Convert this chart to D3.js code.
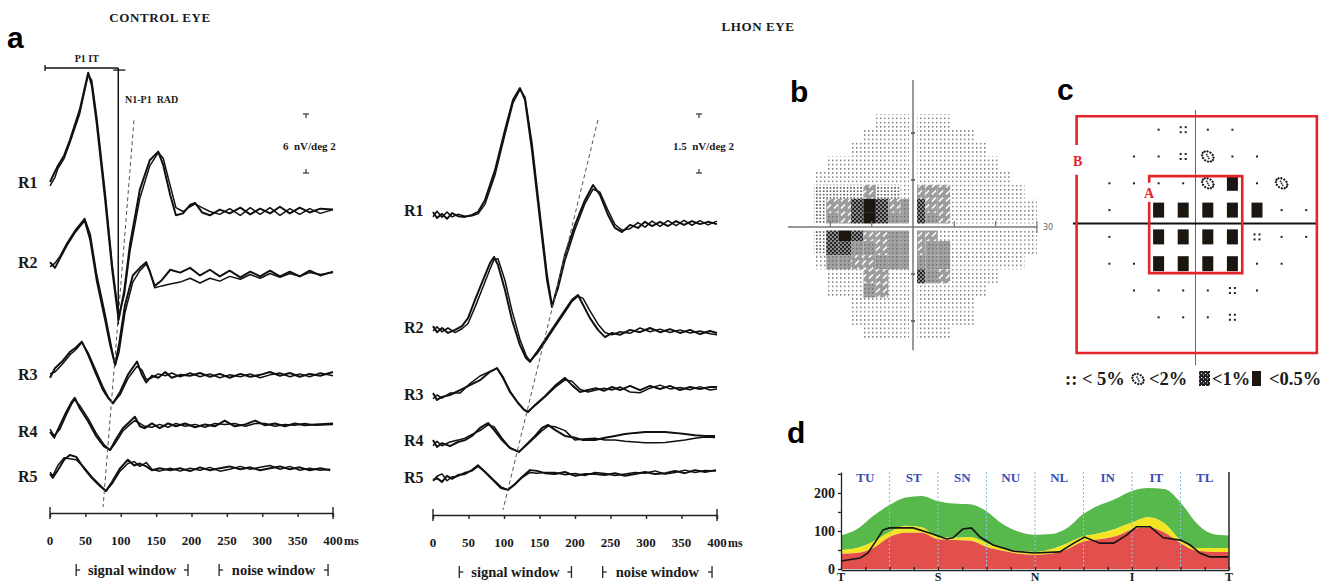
<!DOCTYPE html>
<html>
<head>
<meta charset="utf-8">
<script src="https://cdn.jsdelivr.net/npm/d3@7"></script>
<style>
  body { margin: 0; background: #fff; }
  svg text { font-family: "Liberation Serif", "Times New Roman", serif; font-weight: bold; fill: #1a1a1a; }
  svg text.letter { font-family: "Liberation Sans", Arial, sans-serif; font-size: 30px; fill: #000; }
</style>
</head>
<body>
<script>
// ---------- data ----------
var rowNames = ["R1", "R2", "R3", "R4", "R5"];
var msTicks = [0, 50, 100, 150, 200, 250, 300, 350, 400];
var windows = [["signal window", 37, 195], ["noise window", 239, 393]];

// traces: [ms, run 1, run 2], nV/deg2 relative to the row baseline
var ctrlR1 = [[0,0.1,-0.3],[7,1.2,0.6],[11,1.8,1.5],[20,2.9,2.6],[28,4.5,4.2],[42,7.7,7.3],[54,11.6,11.4],[59,10.3,10.8],[66,6.3,7.0],[78,-1.8,-1.0],[88,-9.2,-8.6],[97,-14.4,-14.0],[105,-11.3,-11.8],[113,-6.5,-7.2],[127,-0.7,-1.6],[141,2.4,1.8],[153,3.3,3.2],[160,1.9,2.6],[170,-1.3,-0.3],[178,-3.4,-2.6],[188,-3.2,-3.0],[198,-2.3,-2.5],[205,-2.1,-2.2],[215,-3.1,-2.6],[226,-3.4,-3.0],[240,-2.8,-3.3],[254,-3.2,-2.7],[269,-2.6,-3.4],[283,-3.3,-2.6],[297,-2.7,-3.3],[311,-3.2,-2.6],[325,-2.5,-3.4],[339,-3.2,-2.7],[353,-2.6,-3.3],[367,-3.1,-2.7],[382,-2.7,-3.2],[400,-2.8,-2.8]];
var ctrlR2 = [[0,0.3,-0.2],[7,-0.3,0.2],[14,0.7,0.9],[24,2.1,2.3],[35,3.4,3.6],[49,4.7,4.9],[57,2.6,3.2],[66,-1.6,-1.0],[78,-5.8,-5.2],[85,-8.4,-7.9],[92,-10.5,-10.6],[97.5,-8.4,-9.2],[106,-4.2,-5.0],[117,-1.1,-1.8],[127,-0.3,-0.6],[136,0.3,0.1],[141,-0.7,-0.6],[148,-2.2,-2.4],[158,-1.6,-2.2],[170,-0.5,-2.0],[184,-0.8,-1.8],[198,-0.3,-1.4],[212,-1.1,-1.9],[226,-0.5,-1.4],[240,-1.2,-1.7],[254,-0.6,-1.2],[269,-1.3,-1.5],[283,-0.7,-1.0],[297,-1.2,-1.4],[311,-0.6,-0.9],[325,-1.2,-1.3],[339,-0.7,-0.9],[353,-1.2,-1.2],[367,-0.6,-0.8],[382,-1.1,-1.0],[400,-0.7,-0.8]];
var ctrlR3 = [[0,-0.6,-0.2],[7,0.4,0.0],[17,1.1,0.8],[28,2.1,1.8],[37,2.6,2.4],[45,3.2,3.1],[54,1.8,2.0],[64,0,0.3],[75,-1.9,-1.6],[82,-2.7,-2.6],[89,-3.3,-3.3],[99,-2.1,-2.4],[110,-0.3,-0.7],[123,1.1,0.6],[130,-0.3,0.2],[136,-1.1,-0.8],[144,-0.4,-0.6],[153,-0.6,-0.2],[163,0,-0.4],[172,-0.6,-0.1],[184,-0.3,-0.5],[198,-0.4,-0.1],[212,-0.1,-0.5],[226,-0.5,-0.2],[240,-0.2,-0.6],[254,-0.6,-0.3],[269,-0.2,-0.5],[283,-0.5,-0.2],[297,-0.3,-0.6],[311,0,-0.3],[325,-0.4,-0.1],[339,-0.1,-0.5],[353,-0.5,-0.2],[367,-0.2,-0.5],[382,-0.4,-0.1],[400,0,-0.4]];
var ctrlR4 = [[0,0,0.3],[6,-0.6,-0.4],[14,0.7,0.3],[23,2.1,1.8],[31,3.2,3.0],[35,3.6,3.4],[42,2.5,2.8],[54,1.1,1.4],[65,-0.4,-0.1],[76,-1.5,-1.3],[85,-1.9,-1.9],[93,-0.8,-1.1],[103,0.4,0.1],[113,1.1,0.8],[120,1.6,1.2],[127,0.6,0.9],[134,0.4,0.6],[144,0.9,0.5],[155,0.4,0.8],[167,0.9,0.5],[178,0.6,0.9],[191,0.9,0.6],[205,0.5,0.8],[219,0.8,0.5],[233,0.6,0.9],[247,1.2,0.8],[261,0.6,0.9],[276,0.8,0.6],[290,1.2,0.9],[304,0.7,0.9],[318,0.9,0.6],[332,0.6,0.8],[346,0.9,0.7],[360,0.7,0.9],[375,0.8,0.7],[400,0.9,0.8]];
var ctrlR5 = [[0,0,0.2],[4,-0.4,-0.2],[11,0.4,0.9],[20,1.5,1.7],[28,2.0,1.6],[37,1.8,1.5],[48,0.6,0.7],[59,-0.4,-0.3],[71,-1.3,-1.2],[79,-1.8,-1.8],[88,-0.8,-1.0],[99,0.6,0.3],[110,1.5,1.1],[119,0.9,1.3],[127,1.1,0.8],[136,0.8,1.2],[144,0.4,0.5],[155,0.6,0.3],[170,0.4,0.6],[184,0.6,0.3],[198,0.3,0.6],[212,0.7,0.4],[226,0.4,0.7],[240,0.6,0.3],[254,0.8,0.5],[269,0.5,0.8],[283,0.7,0.5],[297,0.4,0.7],[311,0.6,0.9],[325,0.8,0.5],[339,0.5,0.8],[353,0.7,0.4],[367,0.4,0.6],[382,0.6,0.4],[396,0.4,0.5]];

var lhonR1 = [[0,0.08,-0.05],[5.6,-0.08,0.1],[12.7,0.03,-0.06],[19.7,-0.1,0.08],[26.8,0.05,-0.05],[35.2,-0.03,0.02],[45,-0.05,-0.03],[55,0,-0.02],[63.4,0.08,0.03],[73.2,0.39,0.28],[87.3,1.18,1.05],[101.4,2.24,2.12],[112.7,3.03,2.95],[122.5,3.34,3.3],[129.6,3.03,3.1],[139.4,1.71,1.9],[150.7,-0.13,0.05],[160.6,-1.71,-1.55],[167.6,-2.42,-2.38],[176,-1.84,-1.95],[185.9,-1.05,-1.2],[200,-0.26,-0.38],[214,0.39,0.3],[225.4,0.79,0.68],[235.2,0.53,0.6],[246.5,0,0.12],[256.3,-0.34,-0.25],[266.2,-0.45,-0.4],[277.5,-0.26,-0.36],[288.7,-0.34,-0.2],[298.6,-0.18,-0.32],[308.5,-0.29,-0.16],[319.7,-0.18,-0.3],[331,-0.29,-0.15],[342.3,-0.16,-0.28],[353.5,-0.26,-0.14],[364.8,-0.16,-0.27],[376,-0.24,-0.15],[387.3,-0.18,-0.26],[400,-0.24,-0.16]];
var lhonR2 = [[0,0.05,-0.08],[5.6,-0.11,0.03],[12.7,0,-0.1],[21.1,-0.13,0],[31,-0.05,-0.12],[40.8,0.05,-0.02],[49.3,0.26,0.12],[59.2,0.74,0.55],[70.4,1.26,1.08],[80.3,1.71,1.55],[85.9,1.87,1.8],[91.5,1.66,1.82],[101.4,1.0,1.25],[111.3,0.21,0.45],[122.5,-0.45,-0.3],[131,-0.79,-0.72],[136.6,-0.89,-0.87],[146.5,-0.63,-0.68],[157.7,-0.32,-0.37],[171.8,0.08,0.03],[185.9,0.47,0.42],[195.8,0.74,0.7],[204.2,0.87,0.84],[211.3,0.61,0.78],[221.1,0.26,0.45],[232.4,-0.05,0.1],[242.3,-0.24,-0.12],[252.1,-0.13,-0.18],[263.4,-0.18,-0.1],[277.5,-0.05,-0.14],[291.5,-0.11,0.0],[305.6,0,-0.1],[319.7,-0.11,-0.03],[333.8,-0.03,-0.12],[347.9,-0.13,-0.05],[362,-0.05,-0.13],[376,-0.16,-0.08],[390.1,-0.08,-0.15],[400,-0.13,-0.18]];
var lhonR3 = [[0,0.05,-0.1],[5.6,-0.13,0.0],[12.7,-0.05,-0.08],[23.9,0,0.05],[38,0.13,0.05],[52.1,0.26,0.3],[66.2,0.39,0.5],[80.3,0.61,0.62],[90.1,0.71,0.7],[98.6,0.45,0.48],[108.5,0.08,0.1],[119.7,-0.21,-0.2],[128.2,-0.39,-0.38],[133.8,-0.45,-0.43],[143.7,-0.26,-0.28],[157.7,-0.03,-0.05],[171.8,0.24,0.2],[185.9,0.45,0.4],[195.8,0.26,0.36],[207,0.08,0.15],[218.3,0.13,0.08],[229.6,0.18,0.13],[240.8,0.11,0.18],[252.1,0.21,0.13],[263.4,0.13,0.21],[277.5,0.24,0.08],[291.5,0.13,0.06],[305.6,0.24,0.18],[319.7,0.16,0.26],[333.8,0.24,0.16],[347.9,0.13,0.2],[362,0.21,0.14],[376,0.16,0.22],[390.1,0.21,0.13],[400,0.21,0.16]];
var lhonR4 = [[0,0.05,-0.1],[5.6,-0.13,0.02],[12.7,-0.03,-0.1],[23.9,-0.11,0.0],[35.2,0,0.05],[45.1,0.05,0.1],[54.9,0.16,0.2],[66.2,0.37,0.3],[77.5,0.5,0.45],[85.9,0.32,0.4],[97.2,0.05,0.1],[108.5,-0.16,-0.15],[121.1,-0.26,-0.26],[131,-0.08,-0.1],[142.3,0.13,0.1],[153.5,0.37,0.3],[162,0.45,0.42],[171.8,0.32,0.4],[185.9,0.16,0.3],[200,0.11,0.05],[211.3,0.05,0.08],[228.2,0.05,0.1],[242.3,0.11,0.05],[256.3,0.16,0.05],[270.4,0.21,0.02],[284.5,0.24,0],[298.6,0.26,-0.02],[312.7,0.26,-0.02],[326.8,0.26,-0.01],[340.8,0.24,0.02],[354.9,0.21,0.05],[369,0.18,0.1],[383.1,0.16,0.13],[397.2,0.16,0.12]];
var lhonR5 = [[0,0,-0.03],[5.6,0.05,0.1],[12.7,-0.05,0.16],[19.7,0.11,-0.02],[26.8,0.03,0.08],[35.2,0.13,0.1],[45.1,0.16,0.2],[54.9,0.26,0.24],[63.4,0.39,0.36],[73.2,0.21,0.22],[84.5,0,0.02],[95.8,-0.21,-0.18],[105.6,-0.26,-0.26],[115.5,-0.11,-0.1],[125.4,0.08,0.06],[136.6,0.26,0.2],[146.5,0.24,0.18],[157.7,0.18,0.2],[171.8,0.16,0.2],[185.9,0.21,0.14],[200,0.11,0.17],[214.1,0.16,0.12],[228.2,0.16,0.2],[242.3,0.13,0.17],[256.3,0.18,0.12],[270.4,0.11,0.16],[284.5,0.16,0.2],[298.6,0.21,0.18],[312.7,0.16,0.24],[326.8,0.18,0.16],[340.8,0.24,0.2],[354.9,0.18,0.26],[369,0.26,0.2],[383.1,0.21,0.25],[398.6,0.26,0.24]];

// visual field grey scale, 3 deg cells, columns from -27 deg, rows from +24 deg down
var vfRows = [
  "      ......       ",
  "     .........     ",
  "    ...........    ",
  "  ..............   ",
  " ................  ",
  " ::::/::.///...... ",
  " ://#@#/+#//.......",
  " :+/#@#++#+/.......",
  " :#@#//++//........",
  " :##++/++/++.......",
  " .++//++++++...... ",
  "  ...//..#+/....   ",
  "  ...+/........    ",
  "    ..........     ",
  "    ..........     ",
  "     .......       "
];
// pattern deviation probability map (24-2 grid)
var pdCols = [-21, -15, -9, -3, 3, 9, 15, 21, 27];
var pdRows = [21, 15, 9, 3, -3, -9, -15, -21];
var pdGrid = [
  "  .:..   ",
  " ..:o..  ",
  "....oB.o ",
  ". BBBBB..",
  ". BBBB:..",
  "..BBBB.. ",
  " ....:.  ",
  "  ...:   "
];
var regionB = [-29, 29.6, 24, -29];
var regionA = [-11.3, 11.4, 10.6, -11.1];

// OCT RNFL TSNIT profile
var sectors = ["TU", "ST", "SN", "NU", "NL", "IN", "IT", "TL"];
var tsnitAngles = [0,15,30,45,60,75,90,105,120,135,150,165,180,195,210,225,240,255,270,285,300,315,330,345,360];
var greenTop  = [88,105,140,168,188,192,178,172,170,152,118,98,90,92,108,145,168,185,205,213,210,175,120,92,88];
var yellowTop = [50,55,72,97,114,110,84,82,84,68,55,48,45,52,68,86,94,106,122,136,120,76,55,55,55];
var redTop    = [40,42,55,84,95,95,78,76,74,58,48,40,37,40,52,72,78,86,104,110,96,68,48,45,45];
var rnfl = [[0,21],[18,29],[25,42],[33,76],[39,103],[45,108],[67,108],[83,94],[98,79],[104,82],[113,105],[121,108],[129,84],[141,63],[160,47],[179,42],[203,45],[216,68],[226,84],[240,68],[253,68],[265,89],[274,111],[287,111],[299,82],[315,76],[324,63],[333,42],[342,32],[360,32]];
var tsnitLabels = ["T", "S", "N", "I", "T"];

// ---------- layout ----------
var W = 1338, H = 585;
var ctrlLayout = {
  xRange: [50, 333], bases: [183, 265, 372, 432, 474], pxPerUnit: 9.5,
  labelX: 18, labelY: [188, 268, 380, 437, 482],
  axisY: 513, tickLabelY: 545, winY: 570, winTextY: 575,
  title: "CONTROL EYE", titleX: 160, titleY: 22,
  barX: 306, barTop: 114, barBot: 173, barText: "6  nV/deg 2", barTextX: 283, barTextY: 150,
  dashed: [[118.7, 6.6], [75, -34.1]]
};
var lhonLayout = {
  xRange: [433, 717], bases: [215, 328, 395, 442, 480], pxPerUnit: 38,
  labelX: 404, labelY: [216, 333, 400, 446, 483],
  axisY: 515, tickLabelY: 547, winY: 572, winTextY: 577,
  title: "LHON EYE", titleX: 758, titleY: 31,
  barX: 699, barTop: 114, barBot: 173, barText: "1.5  nV/deg 2", barTextX: 673, barTextY: 150,
  dashed: [[232.4, 2.5], [98.6, -7.76]]
};

var svg = d3.select("body").append("svg")
  .attr("width", W).attr("height", H)
  .style("background", "#fff");
var defs = svg.append("defs");

function addPattern(id, w, h, bg, build) {
  var p = defs.append("pattern").attr("id", id)
    .attr("patternUnits", "userSpaceOnUse").attr("width", w).attr("height", h);
  if (bg) p.append("rect").attr("width", w).attr("height", h).attr("fill", bg);
  build(p);
}
addPattern("pLight", 4, 4.2, null, function(p) {
  p.append("rect").attr("width", 1.5).attr("height", 1.5).attr("fill", "#7a7a7a");
});
addPattern("pMed", 3.4, 3.4, null, function(p) {
  p.append("rect").attr("width", 1.7).attr("height", 1.7).attr("fill", "#666");
});
addPattern("pGray", 4, 4, "#a0a0a0", function(p) {
  p.append("rect").attr("width", 1.5).attr("height", 1.5).attr("fill", "#6f6f6f");
});
addPattern("pHatch", 7, 7, "#9c9c9c", function(p) {
  p.append("line").attr("x1", 1).attr("y1", 5.5).attr("x2", 5).attr("y2", 1.5)
    .attr("stroke", "#fff").attr("stroke-width", 1.6);
});
addPattern("pCheck", 4, 4, "#8a8a8a", function(p) {
  p.append("rect").attr("width", 1.9).attr("height", 1.9).attr("fill", "#1a1a1a");
  p.append("rect").attr("x", 2).attr("y", 2).attr("width", 1.9).attr("height", 1.9).attr("fill", "#1a1a1a");
});
addPattern("pBlack", 4, 4, "#1c1610", function(p) {});
addPattern("pOne", 4, 4, "#1d1d1d", function(p) {
  p.append("rect").attr("x", 1).attr("y", 1).attr("width", 1.1).attr("height", 1.1).attr("fill", "#fff");
  p.append("rect").attr("x", 3).attr("y", 2.6).attr("width", 0.9).attr("height", 0.9).attr("fill", "#fff");
});
var vfCodes = { ".": "pLight", ":": "pMed", "+": "pGray", "/": "pHatch", "#": "pCheck", "@": "pBlack" };

// panel letters
[["a", 7, 48], ["b", 790, 102], ["c", 1057, 100], ["d", 787, 443]].forEach(function(d) {
  svg.append("text").attr("class", "letter").attr("x", d[1]).attr("y", d[2]).text(d[0]);
});

// ---------- panel a ----------
function mferg(cfg, traces) {
  var g = svg.append("g");
  var x = d3.scaleLinear().domain([0, 400]).range(cfg.xRange);
  var amp = d3.scaleLinear().domain([0, 1]).range([0, -cfg.pxPerUnit]);
  function yAt(row, v) { return cfg.bases[row] + amp(v); }

  traces.forEach(function(tr, i) {
    [1, 2].forEach(function(k) {
      var line = d3.line().x(function(d) { return x(d[0]); }).y(function(d) { return yAt(i, d[k]); });
      g.append("path").datum(tr).attr("d", line)
        .attr("fill", "none").attr("stroke", "#111")
        .attr("stroke-width", k === 1 ? 2 : 1.5)
        .attr("stroke-linejoin", "round");
    });
    g.append("text").attr("x", cfg.labelX).attr("y", cfg.labelY[i])
      .style("font-size", "16px").text(rowNames[i]);
  });

  // implicit-time dashed line
  g.append("line")
    .attr("x1", x(cfg.dashed[0][0])).attr("y1", yAt(0, cfg.dashed[0][1]))
    .attr("x2", x(cfg.dashed[1][0])).attr("y2", yAt(0, cfg.dashed[1][1]))
    .attr("stroke", "#555").attr("stroke-width", 1).attr("stroke-dasharray", "4,3");

  // time axis
  var axis = d3.axisBottom(x).tickValues(msTicks).tickSize(4).tickSizeOuter(0).tickFormat("");
  var ag = g.append("g").attr("transform", "translate(0," + cfg.axisY + ")").call(axis);
  ag.select(".domain").attr("stroke", "#222").attr("stroke-width", 1.4);
  ag.selectAll(".tick line").attr("stroke", "#222").attr("stroke-width", 1.4);
  [0, 400].forEach(function(t) {
    g.append("line").attr("x1", x(t)).attr("x2", x(t))
      .attr("y1", cfg.axisY - 6).attr("y2", cfg.axisY + 6)
      .attr("stroke", "#222").attr("stroke-width", 1.4);
  });
  g.selectAll("text.tl").data(msTicks).enter().append("text")
    .attr("x", function(d) { return x(d); }).attr("y", cfg.tickLabelY)
    .attr("text-anchor", "middle").style("font-size", "13px")
    .text(function(d) { return d; });
  g.append("text").attr("x", x(400) + 11).attr("y", cfg.tickLabelY)
    .style("font-size", "12px").text("ms");

  // analysis windows
  windows.forEach(function(w) {
    var x0 = x(w[1]), x1 = x(w[2]);
    [[x0, 4], [x1, -4]].forEach(function(e) {
      g.append("line").attr("x1", e[0]).attr("x2", e[0])
        .attr("y1", cfg.winY - 6).attr("y2", cfg.winY + 6)
        .attr("stroke", "#222").attr("stroke-width", 1.3);
      g.append("line").attr("x1", e[0]).attr("x2", e[0] + e[1])
        .attr("y1", cfg.winY).attr("y2", cfg.winY)
        .attr("stroke", "#222").attr("stroke-width", 1.3);
    });
    g.append("text").attr("x", (x0 + x1) / 2).attr("y", cfg.winTextY)
      .attr("text-anchor", "middle").style("font-size", "14.5px").text(w[0]);
  });

  // amplitude scale bar
  var bx = cfg.barX;
  g.append("line").attr("x1", bx - 3).attr("x2", bx + 3).attr("y1", cfg.barTop).attr("y2", cfg.barTop)
    .attr("stroke", "#333").attr("stroke-width", 1.2);
  g.append("line").attr("x1", bx).attr("x2", bx).attr("y1", cfg.barTop).attr("y2", cfg.barTop + 4)
    .attr("stroke", "#333").attr("stroke-width", 1.2);
  g.append("line").attr("x1", bx - 3).attr("x2", bx + 3).attr("y1", cfg.barBot).attr("y2", cfg.barBot)
    .attr("stroke", "#333").attr("stroke-width", 1.2);
  g.append("line").attr("x1", bx).attr("x2", bx).attr("y1", cfg.barBot - 4).attr("y2", cfg.barBot)
    .attr("stroke", "#333").attr("stroke-width", 1.2);
  g.append("text").attr("x", cfg.barTextX).attr("y", cfg.barTextY)
    .style("font-size", "11px").style("white-space", "pre").text(cfg.barText);

  g.append("text").attr("x", cfg.titleX).attr("y", cfg.titleY).attr("text-anchor", "middle")
    .style("font-size", "13px").style("letter-spacing", "0.6px").text(cfg.title);

  return { g: g, x: x, yAt: yAt };
}

var ctrl = mferg(ctrlLayout, [ctrlR1, ctrlR2, ctrlR3, ctrlR4, ctrlR5]);
mferg(lhonLayout, [lhonR1, lhonR2, lhonR3, lhonR4, lhonR5]);

// P1 implicit time bracket and N1-P1 amplitude line (control eye)
(function() {
  var g = ctrl.g, x = ctrl.x, yAt = ctrl.yAt;
  var yb = yAt(0, 12.1);
  g.append("line").attr("x1", x(-7)).attr("x2", x(96.5)).attr("y1", yb).attr("y2", yb)
    .attr("stroke", "#111").attr("stroke-width", 1.5);
  g.append("line").attr("x1", x(-7)).attr("x2", x(-7)).attr("y1", yb - 3).attr("y2", yb + 3)
    .attr("stroke", "#111").attr("stroke-width", 1.3);
  g.append("line").attr("x1", x(96.5) - 5).attr("x2", x(96.5) + 7).attr("y1", yb + 2).attr("y2", yb + 2)
    .attr("stroke", "#111").attr("stroke-width", 1.3);
  g.append("line").attr("x1", x(96.5)).attr("x2", x(96.5)).attr("y1", yb).attr("y2", yAt(0, -14.9))
    .attr("stroke", "#111").attr("stroke-width", 1.5);
  g.append("text").attr("x", x(52)).attr("y", yb - 6).attr("text-anchor", "middle")
    .style("font-size", "10px").text("P1 IT");
  g.append("text").attr("x", x(106)).attr("y", yAt(0, 8.4))
    .style("font-size", "10px").style("white-space", "pre").text("N1-P1  RAD");
})();

// ---------- panel b : visual field grey scale ----------
(function() {
  var g = svg.append("g");
  var vx = d3.scaleLinear().domain([-30, 30]).range([789.1, 1036.9]);
  var vy = d3.scaleLinear().domain([-30, 30]).range([368, 86]);
  vfRows.forEach(function(row, r) {
    row.split("").forEach(function(c, i) {
      if (c === " ") return;
      var d0 = -27 + 3 * i, t0 = 24 - 3 * r;
      g.append("rect")
        .attr("x", vx(d0)).attr("y", vy(t0))
        .attr("width", vx(d0 + 3) - vx(d0)).attr("height", vy(t0 - 3) - vy(t0))
        .attr("fill", "url(#" + vfCodes[c] + ")");
    });
  });
  // white gaps along the meridians
  g.append("line").attr("x1", vx(-30)).attr("x2", vx(30.5)).attr("y1", vy(0)).attr("y2", vy(0))
    .attr("stroke", "#fff").attr("stroke-width", 7);
  g.append("line").attr("x1", vx(0)).attr("x2", vx(0)).attr("y1", vy(26)).attr("y2", vy(-26))
    .attr("stroke", "#fff").attr("stroke-width", 8);
  g.append("line").attr("x1", vx(-30.3)).attr("x2", vx(30.2)).attr("y1", vy(0)).attr("y2", vy(0))
    .attr("stroke", "#777").attr("stroke-width", 1.5);
  g.append("line").attr("x1", vx(0)).attr("x2", vx(0)).attr("y1", vy(31.3)).attr("y2", vy(-26.2))
    .attr("stroke", "#777").attr("stroke-width", 1.5);
  [-20, -10, 10, 20].forEach(function(d) {
    g.append("line").attr("x1", vx(d)).attr("x2", vx(d)).attr("y1", vy(0) - 6).attr("y2", vy(0))
      .attr("stroke", "#777").attr("stroke-width", 1.2);
    g.append("line").attr("x1", vx(0) - 2).attr("x2", vx(0) + 2).attr("y1", vy(d)).attr("y2", vy(d))
      .attr("stroke", "#555").attr("stroke-width", 1.6);
  });
  g.append("line").attr("x1", vx(30)).attr("x2", vx(30)).attr("y1", vy(0) - 6).attr("y2", vy(0) + 6)
    .attr("stroke", "#777").attr("stroke-width", 1.2);
  g.append("text").attr("x", vx(30) + 6).attr("y", vy(0) + 3)
    .style("font-family", "DejaVu Sans").style("font-weight", "normal")
    .style("font-size", "8px").style("fill", "#666").text("30");
})();

// ---------- panel c : pattern deviation ----------
function ringGlyph(g, cx0, cy0) {
  var gg = g.append("g").attr("transform", "translate(" + cx0 + "," + cy0 + ") rotate(35)");
  d3.range(12).forEach(function(k) {
    var a = k / 12 * 2 * Math.PI;
    gg.append("rect").attr("x", 6.2 * Math.cos(a) - 1).attr("y", 4.6 * Math.sin(a) - 1)
      .attr("width", 2).attr("height", 2).attr("fill", "#1a1a1a");
  });
  [[-2, -1], [2, 1], [0, 0]].forEach(function(p) {
    gg.append("rect").attr("x", p[0] - 0.8).attr("y", p[1] - 0.8).attr("width", 1.6).attr("height", 1.6).attr("fill", "#333");
  });
}
(function() {
  var g = svg.append("g");
  var cx = d3.scaleLinear().domain([-30, 30]).range([1072.5, 1318.5]);
  var cy = d3.scaleLinear().domain([-30, 30]).range([357.5, 89.5]);
  g.append("line").attr("x1", cx(0)).attr("x2", cx(0)).attr("y1", cy(25.4)).attr("y2", cy(-31.7))
    .attr("stroke", "#666").attr("stroke-width", 1);
  g.append("line").attr("x1", cx(-29.9)).attr("x2", cx(29.9)).attr("y1", cy(0)).attr("y2", cy(0))
    .attr("stroke", "#111").attr("stroke-width", 1.8);

  pdGrid.forEach(function(row, r) {
    row.split("").forEach(function(c, i) {
      var px = cx(pdCols[i]), py = cy(pdRows[r]);
      if (c === ".") {
        g.append("rect").attr("x", px - 1).attr("y", py - 1).attr("width", 2).attr("height", 2).attr("fill", "#222");
      } else if (c === ":") {
        [[-2.5, -2.5], [2.5, -2.5], [-2.5, 2.5], [2.5, 2.5]].forEach(function(o) {
          g.append("rect").attr("x", px + o[0] - 1).attr("y", py + o[1] - 1).attr("width", 2).attr("height", 2).attr("fill", "#222");
        });
      } else if (c === "o") {
        ringGlyph(g, px, py);
      } else if (c === "B") {
        g.append("rect").attr("x", px - 5.5).attr("y", py - 7.5).attr("width", 11).attr("height", 15).attr("fill", "#1c1610");
      }
    });
  });

  var red = "#e3252b";
  function region(b, gapTop, gapBot) {
    var x0 = cx(b[0]), x1 = cx(b[1]), y0 = cy(b[2]), y1 = cy(b[3]);
    g.append("path")
      .attr("d", "M" + x0 + "," + cy(gapTop) + "V" + y0 + "H" + x1 + "V" + y1 + "H" + x0 + "V" + cy(gapBot))
      .attr("fill", "none").attr("stroke", red).attr("stroke-width", 2.6);
  }
  region(regionB, 17.6, 10.9);
  region(regionA, 9.1, 4.8);
  g.append("text").attr("x", cx(regionB[0]) + 1).attr("y", cy(12.9)).attr("text-anchor", "middle")
    .style("font-size", "14px").style("fill", red).text("B");
  g.append("text").attr("x", cx(regionA[0])).attr("y", cy(5.6)).attr("text-anchor", "middle")
    .style("font-size", "14px").style("fill", red).text("A");

  // legend
  var ly = 385;
  g.append("text").attr("x", 1065).attr("y", ly).style("font-size", "18.5px").style("white-space", "pre").text(":: < 5%");
  ringGlyph(g, 1138, ly - 6);
  g.append("text").attr("x", 1149).attr("y", ly).style("font-size", "18.5px").text("<2%");
  g.append("rect").attr("x", 1199).attr("y", ly - 14).attr("width", 11).attr("height", 15).attr("fill", "url(#pOne)");
  g.append("text").attr("x", 1212).attr("y", ly).style("font-size", "18.5px").text("<1%");
  g.append("rect").attr("x", 1252).attr("y", ly - 14).attr("width", 9).attr("height", 15).attr("fill", "#1c1610");
  g.append("text").attr("x", 1269).attr("y", ly).style("font-size", "18.5px").text("<0.5%");
})();

// ---------- panel d : RNFL TSNIT ----------
(function() {
  var g = svg.append("g");
  var x = d3.scaleLinear().domain([0, 360]).range([841, 1229]);
  var y = d3.scaleLinear().domain([0, 255]).range([569, 472]);
  var pts = tsnitAngles.map(function(a, i) { return { a: a, r: redTop[i], yl: yellowTop[i], gr: greenTop[i] }; });
  var curve = d3.curveMonotoneX;
  g.append("path").datum(pts).attr("fill", "#57b94c")
    .attr("d", d3.area().curve(curve).x(function(d) { return x(d.a); })
      .y0(function(d) { return y(d.yl); }).y1(function(d) { return y(d.gr); }));
  g.append("path").datum(pts).attr("fill", "#f3e424")
    .attr("d", d3.area().curve(curve).x(function(d) { return x(d.a); })
      .y0(function(d) { return y(d.r); }).y1(function(d) { return y(d.yl); }));
  g.append("path").datum(pts).attr("fill", "#e24f4d")
    .attr("d", d3.area().curve(curve).x(function(d) { return x(d.a); })
      .y0(y(0)).y1(function(d) { return y(d.r); }));

  // sector dividers and labels
  d3.range(1, 8).forEach(function(i) {
    g.append("line").attr("x1", x(i * 45)).attr("x2", x(i * 45)).attr("y1", y(255)).attr("y2", y(0))
      .attr("stroke", "#8fc0dc").attr("stroke-width", 1.1).attr("stroke-dasharray", "2,2");
  });
  sectors.forEach(function(s, i) {
    g.append("text").attr("x", x(i * 45 + 22.5)).attr("y", 482).attr("text-anchor", "middle")
      .style("font-size", "13px").style("fill", "#3b4cb5").text(s);
  });

  g.append("path").datum(rnfl).attr("fill", "none").attr("stroke", "#141414").attr("stroke-width", 1.6)
    .attr("d", d3.line().x(function(d) { return x(d[0]); }).y(function(d) { return y(d[1]); }));

  var ya = g.append("g").attr("transform", "translate(" + x(0) + ",0)")
    .call(d3.axisLeft(y).tickValues([0, 50, 100, 150, 200, 250]).tickSize(3).tickSizeOuter(0)
      .tickFormat(function(d) { return d % 100 === 0 ? d : ""; }));
  ya.selectAll("text").style("font-size", "14px").attr("dy", "0.35em");
  ya.selectAll("line, path").attr("stroke", "#222").attr("stroke-width", 1.3);

  var xa = g.append("g").attr("transform", "translate(0," + (y(0) + 1) + ")")
    .call(d3.axisBottom(x).tickValues(d3.range(0, 361, 22.5)).tickSize(-3).tickSizeOuter(0).tickFormat(""));
  xa.selectAll("line, path").attr("stroke", "#222").attr("stroke-width", 1.3);

  g.append("line").attr("x1", x(360)).attr("x2", x(360)).attr("y1", y(255)).attr("y2", y(0) + 1)
    .attr("stroke", "#333").attr("stroke-width", 1.6);

  tsnitLabels.forEach(function(s, i) {
    g.append("text").attr("x", x(i * 90)).attr("y", 581).attr("text-anchor", "middle")
      .style("font-size", "12px").text(s);
  });
})();
</script>
</body>
</html>
